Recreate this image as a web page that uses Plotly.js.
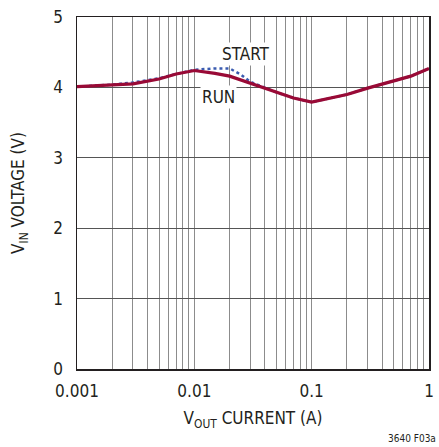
<!DOCTYPE html>
<html>
<head>
<meta charset="utf-8">
<script src="https://cdn.plot.ly/plotly-3.0.1.min.js"></script>
<style>
html,body{margin:0;padding:0;background:#fff;}
#chart{width:439px;height:447px;}
</style>
</head>
<body>
<div id="chart"></div>
<script>
// Data
const runCurrent   = [0.001, 0.002, 0.003, 0.005, 0.007, 0.01, 0.015, 0.02, 0.03, 0.05, 0.07, 0.1, 0.2, 0.3, 0.5, 0.7, 1];
const runVoltage   = [4.01, 4.03, 4.05, 4.12, 4.19, 4.24, 4.20, 4.16, 4.06, 3.93, 3.85, 3.79, 3.90, 3.99, 4.09, 4.16, 4.27];
const startCurrent = [0.001, 0.002, 0.003, 0.005, 0.007, 0.01, 0.015, 0.02, 0.025, 0.03, 0.05, 0.07, 0.1, 0.2, 0.3, 0.5, 0.7, 1];
const startVoltage = [4.01, 4.04, 4.07, 4.13, 4.19, 4.25, 4.27, 4.27, 4.18, 4.08, 3.93, 3.85, 3.79, 3.90, 3.99, 4.09, 4.16, 4.27];
const xTickVals = [0.001, 0.01, 0.1, 1];
const xTickText = ['0.001', '0.01', '0.1', '1'];
const yTickVals = [0, 1, 2, 3, 4, 5];

const minorVals = [];
for (const d of [0.001, 0.01, 0.1]) for (let k = 2; k <= 9; k++) minorVals.push(d * k);

const FONT = '"DejaVu Sans Condensed", "Liberation Sans Narrow", "Liberation Sans", sans-serif';

const traces = [
  {x: startCurrent, y: startVoltage, type: 'scatter', mode: 'lines', name: 'START',
   line: {color: '#3a5bb0', width: 2.5, dash: 'dot'}},
  {x: runCurrent, y: runVoltage, type: 'scatter', mode: 'lines', name: 'RUN',
   line: {color: '#990a36', width: 3.2}}
];

const layout = {
  width: 439, height: 447,
  margin: {l: 77, r: 10, t: 17, b: 78},
  paper_bgcolor: '#fff', plot_bgcolor: '#fff',
  showlegend: false,
  font: {family: FONT, color: '#231f20'},
  xaxis: {
    type: 'log', range: [-3, 0],
    tickvals: xTickVals, ticktext: xTickText,
    showgrid: true, gridcolor: '#8c8c8c', gridwidth: 1,
    minor: {tickvals: minorVals, showgrid: true, gridcolor: '#8c8c8c', gridwidth: 1, ticks: ''},
    showline: true, linecolor: '#231f20', linewidth: 1.5, mirror: true,
    ticks: '', ticklabelstandoff: 6,
    tickfont: {size: 17, family: FONT, color: '#231f20'},
    zeroline: false,
    title: {text: 'V<sub>OUT</sub> CURRENT (A)', font: {size: 17, family: FONT, color: '#231f20'}, standoff: 12}
  },
  yaxis: {
    range: [0, 5],
    tickvals: yTickVals,
    showgrid: true, gridcolor: '#555', gridwidth: 1,
    showline: true, linecolor: '#231f20', linewidth: 1.5, mirror: true,
    ticks: '', ticklabelstandoff: 9,
    tickfont: {size: 17, family: FONT, color: '#231f20'},
    zeroline: false,
    title: {text: 'V<sub>IN</sub> VOLTAGE (V)', font: {size: 17, family: FONT, color: '#231f20'}, standoff: 24}
  },
  annotations: [
    {x: Math.log10(0.0276), y: 4.47, xref: 'x', yref: 'y', text: 'START', showarrow: false,
     bgcolor: '#fff', font: {size: 17, family: FONT, color: '#231f20'}, borderpad: 1},
    {x: Math.log10(0.016), y: 3.86, xref: 'x', yref: 'y', text: 'RUN', showarrow: false,
     bgcolor: '#fff', font: {size: 17, family: FONT, color: '#231f20'}, borderpad: 1},
    {x: 1, y: 0, xref: 'paper', yref: 'paper', xanchor: 'right', yanchor: 'top',
     xshift: 9, yshift: -62, text: '3640 F03a', showarrow: false,
     font: {size: 10, family: FONT, color: '#231f20'}}
  ]
};

Plotly.newPlot('chart', traces, layout, {displayModeBar: false, staticPlot: true});
</script>
</body>
</html>
